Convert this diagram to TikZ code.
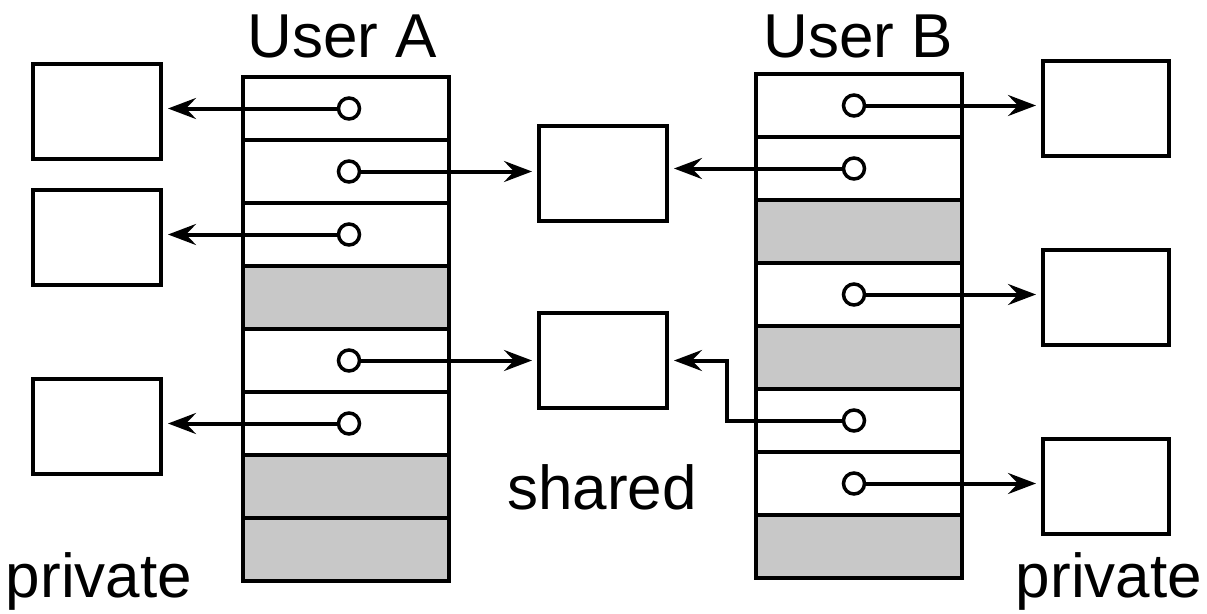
\documentclass[tikz,border=0pt]{standalone}
\usepackage{fontspec}
\setmainfont{Liberation Sans}
\usetikzlibrary{arrows.meta,calc}
\definecolor{freegray}{RGB}{200,200,200}
\begin{document}
\begin{tikzpicture}[x=1pt,y=-1pt,
  cell/.style={draw, line width=4pt, minimum width=206pt, minimum height=63pt, inner sep=0pt, outer sep=0pt},
  usedcell/.style={cell, fill=white},
  freecell/.style={cell, fill=freegray},
  obj/.style={draw, line width=4pt, minimum width=128pt, minimum height=95pt, inner sep=0pt, outer sep=0pt},
  ptrdot/.style={circle, draw, fill=white, line width=3.5pt, minimum size=21pt, inner sep=0pt, outer sep=0pt},
  ptr/.style={line width=4pt, -{Stealth[length=28pt,width=21pt,inset=10pt]}, shorten >=7pt},
  lbl/.style={anchor=base, inner sep=0pt, font=\fontsize{62pt}{70pt}\selectfont}]
\useasboundingbox (0,0) rectangle (1207,613);

% User A memory column
\node[usedcell] (a1) at (346,108.5) {};
\node[usedcell] (a2) at (346,171.5) {};
\node[usedcell] (a3) at (346,234.5) {};
\node[freecell] (a4) at (346,297.5) {};
\node[usedcell] (a5) at (346,360.5) {};
\node[usedcell] (a6) at (346,423.5) {};
\node[freecell] (a7) at (346,486.5) {};
\node[freecell] (a8) at (346,549.5) {};

% User B memory column
\node[usedcell] (b1) at (858.5,105.5) {};
\node[usedcell] (b2) at (858.5,168.5) {};
\node[freecell] (b3) at (858.5,231.5) {};
\node[usedcell] (b4) at (858.5,294.5) {};
\node[freecell] (b5) at (858.5,357.5) {};
\node[usedcell] (b6) at (858.5,420.5) {};
\node[usedcell] (b7) at (858.5,483.5) {};
\node[freecell] (b8) at (858.5,546.5) {};

% private objects (left)
\node[obj] (p1) at (97,111) {};
\node[obj] (p2) at (97,237.5) {};
\node[obj] (p3) at (97,426) {};
% shared objects
\node[obj] (s1) at (603,173.5) {};
\node[obj] (s2) at (603,360.5) {};
% private objects (right)
\node[obj, minimum width=126pt] (q1) at (1106,108.5) {};
\node[obj, minimum width=126pt] (q2) at (1106,297.5) {};
\node[obj, minimum width=126pt] (q3) at (1106,486) {};

% pointer dots
\node[ptrdot] (ca1) at (349,108.5) {};
\node[ptrdot] (ca2) at (349,171.5) {};
\node[ptrdot] (ca3) at (349,234.5) {};
\node[ptrdot] (ca5) at (349,360.5) {};
\node[ptrdot] (ca6) at (349,423.5) {};
\node[ptrdot] (cb1) at (854,105.5) {};
\node[ptrdot] (cb2) at (854,168.5) {};
\node[ptrdot] (cb4) at (854,294.5) {};
\node[ptrdot] (cb6) at (854,420.5) {};
\node[ptrdot] (cb7) at (854,483.5) {};

% connectors
\draw[ptr] (ca1.west) -- (ca1.west -| p1.east);
\draw[ptr] (ca2.east) -- (ca2.east -| s1.west);
\draw[ptr] (ca3.west) -- (ca3.west -| p2.east);
\draw[ptr] (ca5.east) -- (ca5.east -| s2.west);
\draw[ptr] (ca6.west) -- (ca6.west -| p3.east);
\draw[ptr] (cb1.east) -- (cb1.east -| q1.west);
\draw[ptr] (cb2.west) -- (cb2.west -| s1.east);
\draw[ptr] (cb4.east) -- (cb4.east -| q2.west);
\coordinate (bend) at (727,420.5);
\draw[ptr, line join=miter] (cb6.west) -- (bend) |- (s2.east);
\draw[ptr] (cb7.east) -- (cb7.east -| q3.west);

% labels
\node[lbl] (ua) at (342.5,57) {User A};
\node[lbl] (ub) at (858,57) {User B};
\node[lbl] (sh) at (602,509) {shared};
\node[lbl] (pl) at (99,597) {private};
\node[lbl] (pr) at (1109,597) {private};
\end{tikzpicture}
\end{document}
